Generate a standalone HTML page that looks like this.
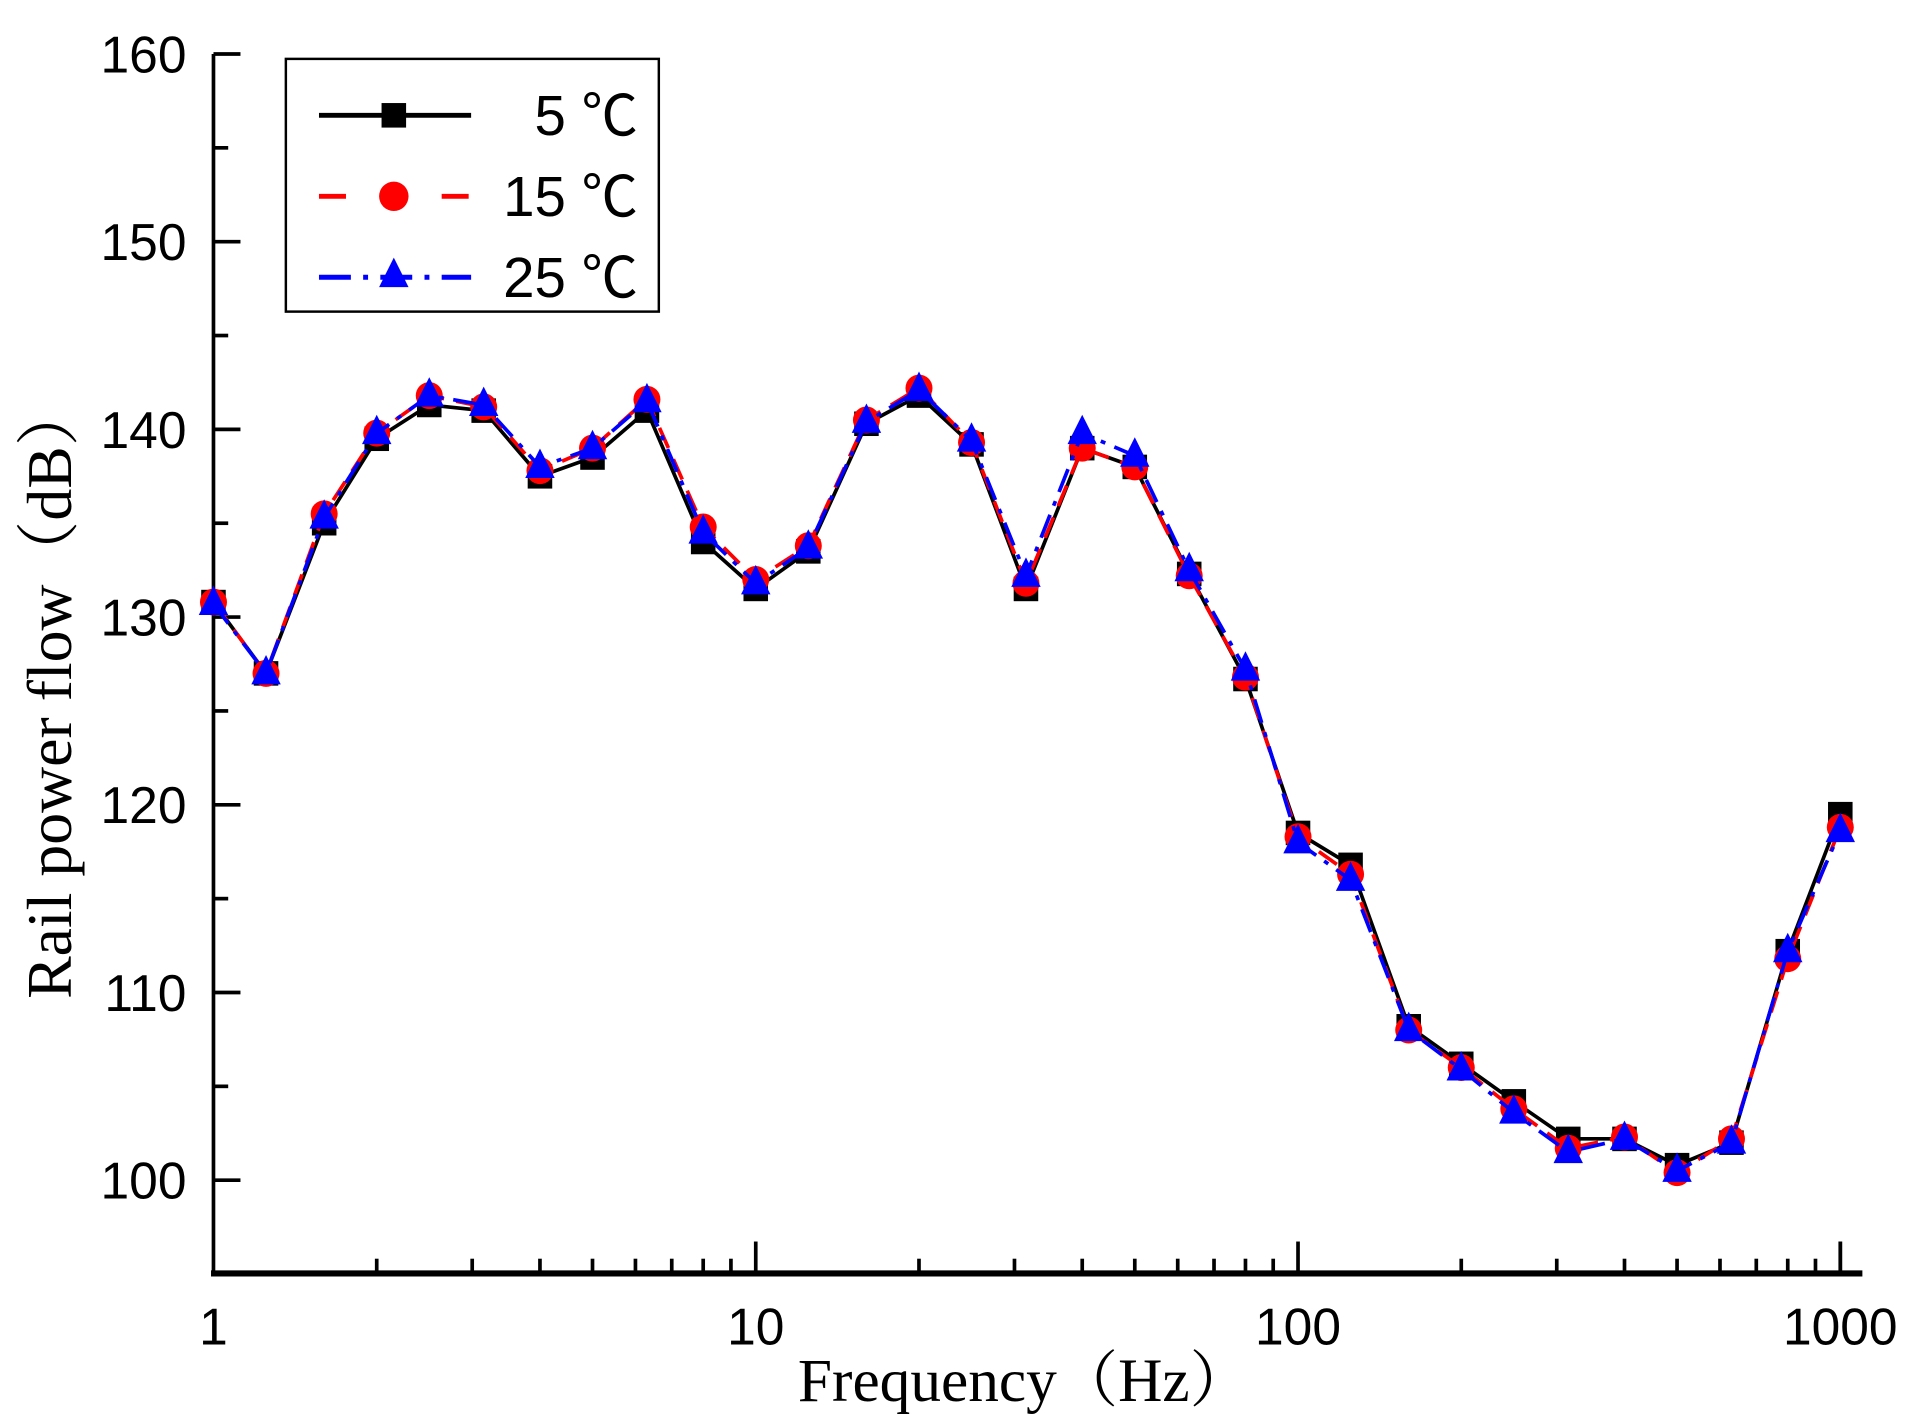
<!DOCTYPE html>
<html><head><meta charset="utf-8"><style>html,body{margin:0;padding:0;background:#fff}svg{display:block}</style></head>
<body>
<svg id="s" width="1909" height="1428" viewBox="0 0 1556 1164" preserveAspectRatio="none" xmlns="http://www.w3.org/2000/svg">
<rect width="1556" height="1164" fill="#fff"/>
<g id="axes" stroke="#000" stroke-width="3" fill="none"></g>
<g id="series"></g>
<g font-family="Liberation Sans, sans-serif" font-size="42" fill="#000" id="labels"></g>
<text x="835" y="1142" text-anchor="middle" font-family="Liberation Serif, 'Noto Serif CJK SC', serif" font-size="50">Frequency（Hz）</text>
<text transform="translate(58,563) rotate(-90)" text-anchor="middle" font-family="Liberation Serif, 'Noto Serif CJK SC', serif" font-size="52">Rail power flow（dB）</text>
<rect x="233" y="48" width="304" height="206" fill="#fff" stroke="#000" stroke-width="2"/>
<line x1="260" y1="94" x2="384" y2="94" stroke="#000" stroke-width="4"/>
<rect x="311" y="84" width="20" height="20" fill="#000"/>
<line x1="260" y1="160" x2="384" y2="160" stroke="#f00" stroke-width="4" stroke-dasharray="22,28"/>
<circle cx="321" cy="160" r="12" fill="#f00"/>
<line x1="260" y1="226" x2="384" y2="226" stroke="#00f" stroke-width="4" stroke-dasharray="26,10,4,10"/>
<polygon points="321,210 333,234 309,234" fill="#00f"/>
<g font-family="Liberation Sans, 'Noto Sans CJK SC', sans-serif" font-size="46" text-anchor="end">
<text x="520" y="110">5 ℃</text><text x="520" y="176">15 ℃</text><text x="520" y="242">25 ℃</text></g>
</svg>
<script>
const NS="http://www.w3.org/2000/svg";
const X=f=>174+442*Math.log10(f), Y=v=>962-(v-100)*15.3;
function el(p,t,a){const e=document.createElementNS(NS,t);for(const k in a)e.setAttribute(k,a[k]);p.appendChild(e);return e;}
const ax=document.getElementById('axes'), lb=document.getElementById('labels');
el(ax,'line',{x1:174,y1:44,x2:174,y2:1040});
el(ax,'line',{x1:172,y1:1038,x2:1518,y2:1038,'stroke-width':5});
for(let v=95;v<=160;v+=5){const y=Y(v);const maj=v%10==0;el(ax,'line',{x1:174,y1:y,x2:174+(maj?22:12),y2:y});
 if(maj){const t=el(lb,'text',{x:152,y:y+15,'text-anchor':'end'});t.textContent=v;}}
for(let d=0;d<3;d++)for(let m=1;m<=10;m++){if(d<2&&m==10)continue;const x=X(m*Math.pow(10,d));const maj=m==1||m==10;
 if(d==0&&m==1){}else el(ax,'line',{x1:x,y1:1038,x2:x,y2:1038-(maj?26:12)});}
el(ax,'line',{x1:X(1000),y1:1038,x2:X(1000),y2:1012});
[[1,'1'],[10,'10'],[100,'100'],[1000,'1000']].forEach(([f,s])=>{const t=el(lb,'text',{x:X(f),y:1096,'text-anchor':'middle'});t.textContent=s;});
const F=[1,1.25,1.6,2,2.5,3.15,4,5,6.3,8,10,12.5,16,20,25,31.5,40,50,63,80,100,125,160,200,250,315,400,500,630,800,1000];
const A=[130.8,127,135,139.5,141.3,141,137.5,138.5,141,134,131.5,133.5,140.3,141.8,139.2,131.5,139,138,132.3,126.7,118.5,116.8,108.2,106.2,104.2,102.2,102.2,100.8,102.0,112.2,119.5];
const B=[130.8,127,135.5,139.8,141.8,141.2,137.8,139,141.6,134.8,132,133.8,140.5,142.2,139.3,131.8,139,138,132.2,126.8,118.3,116.3,108,106,103.8,101.7,102.3,100.4,102.2,111.8,118.8];
const C=[130.7,127,135.3,139.8,141.8,141.3,138,139,141.5,134.5,131.8,133.7,140.4,142.1,139.4,132.2,139.8,138.6,132.5,127.2,118,116,108,105.9,103.6,101.5,102.2,100.5,102,112.2,118.6];
const sg=document.getElementById('series');
function pts(D){return F.map((f,i)=>X(f).toFixed(1)+','+Y(D[i]).toFixed(1)).join(' ');}
el(sg,'polyline',{points:pts(A),fill:'none',stroke:'#000','stroke-width':3});
F.forEach((f,i)=>el(sg,'rect',{x:X(f)-10,y:Y(A[i])-10,width:20,height:20,fill:'#000'}));
el(sg,'polyline',{points:pts(B),fill:'none',stroke:'#f00','stroke-width':3,'stroke-dasharray':'18,10'});
F.forEach((f,i)=>el(sg,'circle',{cx:X(f),cy:Y(B[i]),r:11,fill:'#f00'}));
el(sg,'polyline',{points:pts(C),fill:'none',stroke:'#00f','stroke-width':3,'stroke-dasharray':'20,8,4,8'});
F.forEach((f,i)=>{const x=X(f),y=Y(C[i]);el(sg,'polygon',{points:`${x},${y-15} ${x+12},${y+9} ${x-12},${y+9}`,fill:'#00f'});});
</script>
</body></html>
